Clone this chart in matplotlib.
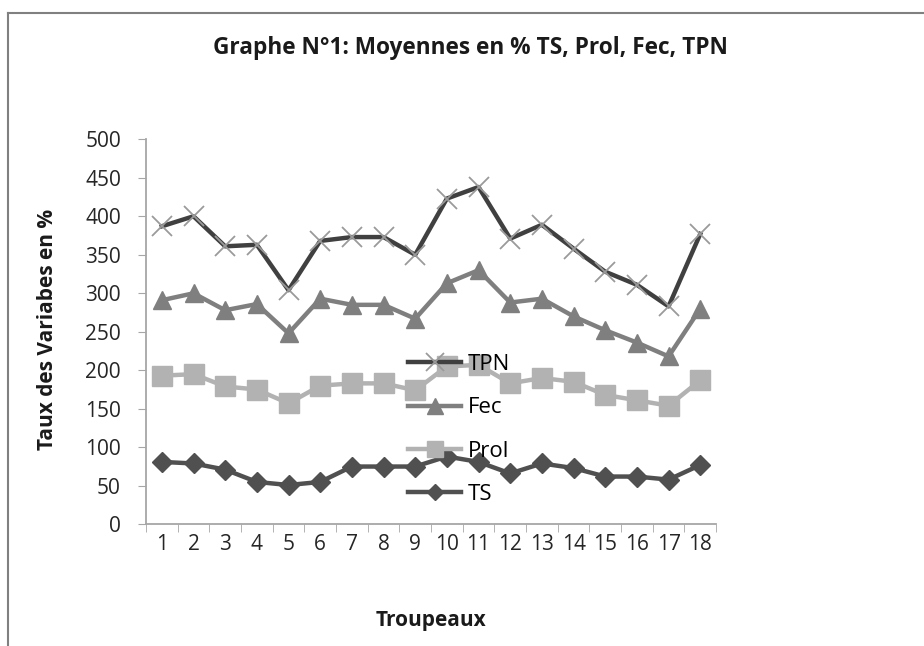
import matplotlib.pyplot as plt
from matplotlib.lines import Line2D

troupeaux = list(range(1, 19))
tpn = [387, 400, 361, 363, 304, 368, 373, 373, 350, 423, 438, 371, 389, 358, 328, 311, 283, 377]
fec = [291, 300, 278, 286, 248, 293, 285, 285, 267, 313, 330, 288, 293, 270, 252, 236, 218, 280]
prol = [193, 195, 179, 175, 157, 180, 183, 183, 174, 205, 207, 183, 190, 185, 168, 161, 154, 187]
ts = [81, 79, 71, 55, 51, 55, 75, 75, 75, 88, 81, 66, 79, 73, 62, 62, 58, 77]

plt.rcParams['font.family'] = ['Open Sans', 'DejaVu Sans']

fig = plt.figure(figsize=(9.24, 6.46), dpi=100)
ax = fig.add_axes([0.158, 0.1884, 0.617, 0.596])

ax.plot(troupeaux, tpn, color='#404040', lw=3.2, marker='x', ms=15, mew=1.3,
        mec='#9a9a9a', label='TPN', zorder=4)
ax.plot(troupeaux, fec, color='#7f7f7f', lw=3.2, marker='^', ms=13, mec='#7f7f7f',
        mfc='#7f7f7f', label='Fec', zorder=3)
ax.plot(troupeaux, prol, color='#b2b2b2', lw=3.2, marker='s', ms=14, mec='#b2b2b2',
        mfc='#b2b2b2', label='Prol', zorder=3)
ax.plot(troupeaux, ts, color='#505050', lw=3.2, marker='D', ms=10, mec='#505050',
        mfc='#505050', label='TS', zorder=3)

ax.set_xlim(0.5, 18.5)
ax.set_ylim(0, 500)
ax.set_yticks(range(0, 501, 50))
ax.set_xticks(troupeaux)
ax.set_xticks([i + 0.5 for i in range(0, 19)], minor=True)
ax.tick_params(axis='x', which='major', length=0, pad=7, labelsize=15, labelcolor='#262626')
ax.tick_params(axis='x', which='minor', length=6, color='#a6a6a6', direction='out')
ax.tick_params(axis='y', length=6, color='#a6a6a6', pad=12, labelsize=15, labelcolor='#262626')

for s in ['top', 'right']:
    ax.spines[s].set_visible(False)
for s in ['left', 'bottom']:
    ax.spines[s].set_color('#a6a6a6')
    ax.spines[s].set_linewidth(1.3)

leg = ax.legend(loc='upper left', bbox_to_anchor=(0.444, 0.465), frameon=False,
                fontsize=16, handlelength=2.4, handletextpad=0.3, markerscale=0.85,
                labelspacing=1.0, borderaxespad=0)
leg.set_zorder(10)

fig.text(0.509, 0.926, 'Graphe N°1: Moyennes en % TS, Prol, Fec, TPN',
         ha='center', va='center', fontsize=16.3, fontweight='bold', color='#1a1a1a')
fig.text(0.051, 0.49, 'Taux des Variabes en %', rotation=90, ha='center', va='center',
         fontsize=15, fontweight='bold', color='#1a1a1a')
fig.text(0.466, 0.04, 'Troupeaux', ha='center', va='center',
         fontsize=15, fontweight='bold', color='#1a1a1a')

# outer frame (top and left edge only)
fig.add_artist(Line2D([0.009, 1.0], [0.98, 0.98], color='#808080', lw=1.5))
fig.add_artist(Line2D([0.009, 0.009], [0.0, 0.98], color='#808080', lw=1.5))

fig.savefig('out.png', dpi=100)
